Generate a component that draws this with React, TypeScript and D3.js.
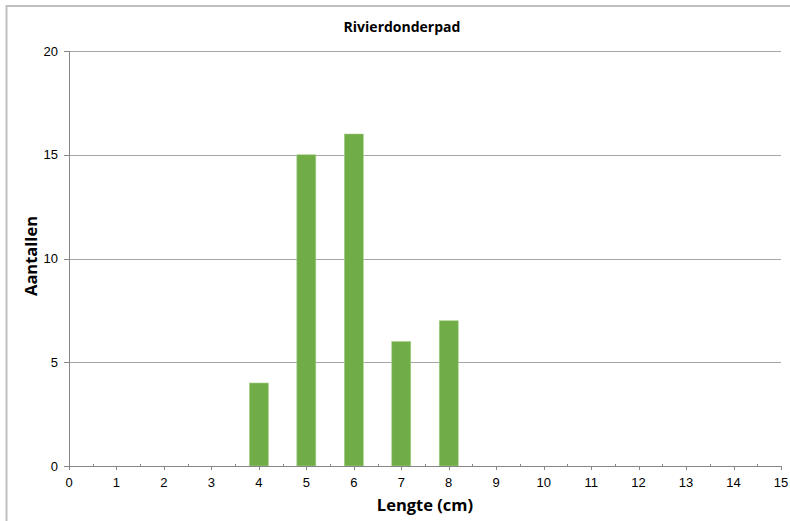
import React from "react";
import * as d3 from "d3";

const title = "Rivierdonderpad";
const xTitle = "Lengte (cm)";
const yTitle = "Aantallen";
const lengths = [4, 5, 6, 7, 8];
const counts = [4, 15, 16, 6, 7];
const xTicks = d3.range(0, 16);
const xMinorTicks = d3.range(0.5, 15, 1);
const yTicks = [0, 5, 10, 15, 20];

export default function App() {
  const W = 790, H = 521;
  const x = d3.scaleLinear().domain([0, 15]).range([69, 781]);
  const y = d3.scaleLinear().domain([0, 20]).range([466, 51]);
  const barW = 19;
  const font = "Arial, 'Liberation Sans', sans-serif";
  return (
    <svg width={W} height={H} style={{ position: "absolute", left: 0, top: 0 }}>
      <rect x={0} y={0} width={W} height={H} fill="#fff" />
      <rect x={6.5} y={6} width={W - 2} height={H + 10} fill="none" stroke="#c0c0c0" strokeWidth={2} />
      <text x={402} y={32} textAnchor="middle" fontFamily="'Open Sans', sans-serif" fontWeight="bold" fontSize={14} fill="#000">{title}</text>
      {yTicks.filter((t) => t > 0).map((t) => (
        <line key={"g" + t} x1={x(0)} x2={x(15)} y1={Math.round(y(t)) + 0.5} y2={Math.round(y(t)) + 0.5} stroke="#a6a6a6" strokeWidth={1} />
      ))}
      {lengths.map((l, i) => (
        <rect key={"b" + l} x={x(l) - barW / 2} y={y(counts[i])} width={barW} height={y(0) - y(counts[i])} fill="#70AD47" stroke="#a9d18e" strokeWidth={0.6} />
      ))}
      <line x1={x(0) + 0.5} x2={x(0) + 0.5} y1={y(20)} y2={y(0)} stroke="#868686" />
      {yTicks.map((t) => (
        <g key={"y" + t}>
          <line x1={x(0) - 5} x2={x(0)} y1={Math.round(y(t)) + 0.5} y2={Math.round(y(t)) + 0.5} stroke="#868686" />
          <text x={58} y={y(t) + 4.5} textAnchor="end" fontFamily={font} fontSize={13} fill="#000">{t}</text>
        </g>
      ))}
      <line x1={x(0)} x2={x(15)} y1={Math.round(y(0)) + 0.5} y2={Math.round(y(0)) + 0.5} stroke="#868686" />
      {xMinorTicks.map((t) => (
        <line key={"m" + t} x1={Math.round(x(t)) + 0.5} x2={Math.round(x(t)) + 0.5} y1={y(0) - 2} y2={y(0)} stroke="#868686" />
      ))}
      {xTicks.map((t) => (
        <g key={"x" + t}>
          <line x1={Math.round(x(t)) + 0.5} x2={Math.round(x(t)) + 0.5} y1={y(0)} y2={y(0) + 4} stroke="#868686" />
          <text x={x(t)} y={487} textAnchor="middle" fontFamily={font} fontSize={13} fill="#000">{t}</text>
        </g>
      ))}
      <text x={425} y={511} textAnchor="middle" fontFamily="'Open Sans', sans-serif" fontWeight="bold" fontSize={16.5} fill="#000">{xTitle}</text>
      <text transform={`translate(37,256) rotate(-90)`} textAnchor="middle" fontFamily="'Open Sans', sans-serif" fontWeight="bold" fontSize={16.5} fill="#000">{yTitle}</text>
    </svg>
  );
}
